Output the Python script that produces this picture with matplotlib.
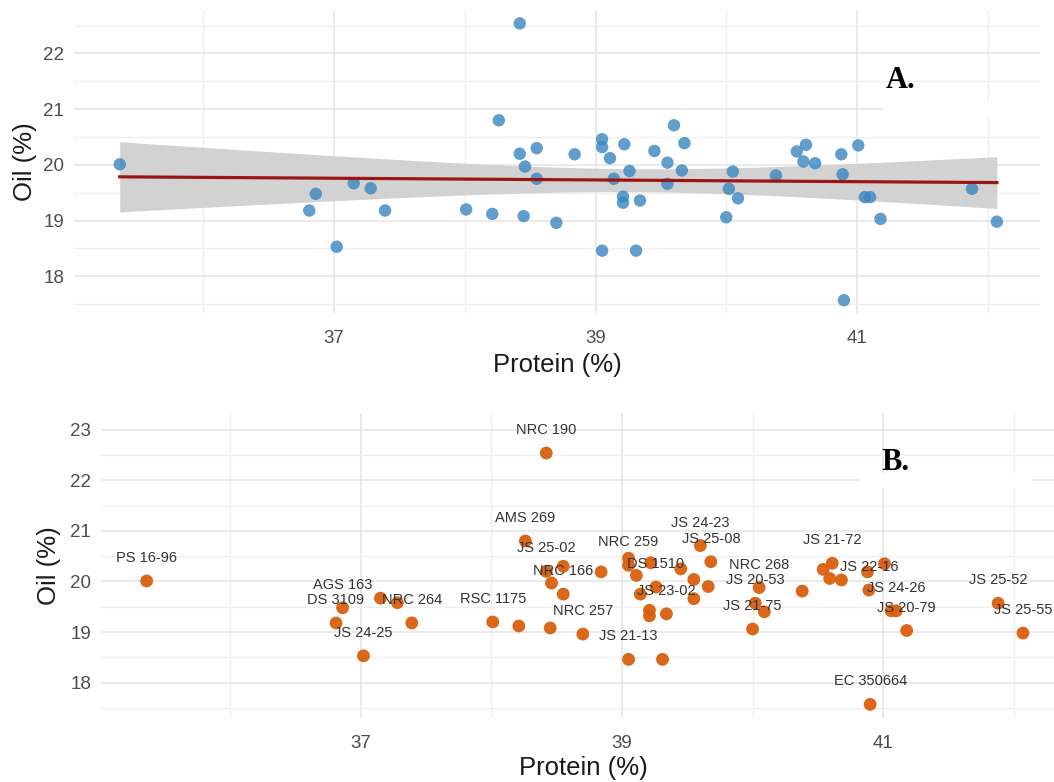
import numpy as np
import matplotlib
matplotlib.use("Agg")
import matplotlib.pyplot as plt
from matplotlib.patches import Rectangle
from matplotlib.ticker import MultipleLocator

# Données : teneur en protéines et en huile (%) des génotypes
protein = [35.36, 36.81, 36.86, 37.02, 37.15, 37.28, 37.39, 38.01, 38.21, 38.26,
           38.42, 38.42, 38.46, 38.55, 38.55, 38.45, 38.70, 38.84, 39.05, 39.05,
           39.11, 39.22, 39.14, 39.26, 39.21, 39.21, 39.34, 39.05, 39.31, 39.45,
           39.55, 39.55, 39.60, 39.68, 39.66, 40.05, 40.02, 40.09, 40.00, 40.38,
           40.54, 40.61, 40.59, 40.68, 40.88, 40.89, 41.01, 41.06, 41.10, 41.18,
           41.88, 42.07, 40.90]
oil = [20.01, 19.18, 19.48, 18.53, 19.67, 19.58, 19.18, 19.20, 19.12, 20.80,
       22.54, 20.20, 19.97, 20.30, 19.75, 19.08, 18.96, 20.19, 20.46, 20.32,
       20.12, 20.37, 19.75, 19.89, 19.43, 19.32, 19.36, 18.46, 18.46, 20.25,
       20.04, 19.66, 20.71, 20.39, 19.90, 19.88, 19.57, 19.40, 19.06, 19.81,
       20.24, 20.36, 20.06, 20.03, 20.19, 19.83, 20.35, 19.42, 19.42, 19.03,
       19.57, 18.98, 17.57]
# noms affichés (vide = étiquette masquée pour éviter les chevauchements)
names = ["PS 16-96", "DS 3109", "AGS 163", "JS 24-25", "", "", "NRC 264",
         "RSC 1175", "", "AMS 269", "NRC 190", "JS 25-02", "", "", "NRC 166", "",
         "NRC 257", "", "", "NRC 259", "", "", "", "DS 1510", "", "", "JS 23-02",
         "JS 21-13", "", "", "", "", "JS 24-23", "JS 25-08", "", "NRC 268",
         "JS 20-53", "", "JS 21-75", "", "", "JS 21-72", "", "", "", "JS 22-16",
         "", "", "JS 24-26", "JS 20-79", "JS 25-52", "JS 25-55", "EC 350664"]

x_ticks = [37, 39, 41]

plt.rcParams["font.family"] = ["Liberation Sans", "DejaVu Sans"]

x = np.array(protein)
y = np.array(oil)

# --- Régression linéaire + IC 95 % (équivalent geom_smooth(method = "lm")) ---
slope, intercept = np.polyfit(x, y, 1)
n = len(x)
resid = y - (slope * x + intercept)
se = np.sqrt(np.sum(resid ** 2) / (n - 2))
sxx = np.sum((x - x.mean()) ** 2)
t_crit = 2.008  # quantile t(0.975, ddl = 51)
xs = np.linspace(x.min(), x.max(), 200)
fit = slope * xs + intercept
half = t_crit * se * np.sqrt(1 / n + (xs - x.mean()) ** 2 / sxx)

fig = plt.figure(figsize=(10.54, 7.82), dpi=100)
ax_a = fig.add_axes([0.0702, 0.5997, 0.9165, 0.3875])
ax_b = fig.add_axes([0.0958, 0.0818, 0.9156, 0.3900])


def style_axis(ax, ylim, xlabel_y, ylabel_x):
    ax.set_xlim(35.01, 42.40)
    ax.set_ylim(*ylim)
    ax.set_xticks(x_ticks)
    ax.xaxis.set_minor_locator(MultipleLocator(1))
    ax.yaxis.set_major_locator(MultipleLocator(1))
    ax.yaxis.set_minor_locator(MultipleLocator(0.5))
    for s in ax.spines.values():
        s.set_visible(False)
    ax.grid(which="major", color="#E4E4E4", linewidth=1.1, zorder=0)
    ax.grid(which="minor", color="#EFEFEF", linewidth=0.9, zorder=0)
    ax.set_axisbelow(True)
    ax.tick_params(which="both", length=0, labelsize=13.5, labelcolor="#4D4D4D")
    ax.tick_params(axis="x", pad=12.5)
    ax.tick_params(axis="y", pad=7)
    ax.set_xlabel("Protein (%)", fontsize=18.5, color="#1A1A1A")
    ax.set_ylabel("Oil (%)", fontsize=18.5, color="#1A1A1A")
    ax.xaxis.label.set_va("center")
    ax.yaxis.label.set_va("center")
    ax.xaxis.set_label_coords(0.5, xlabel_y)
    ax.yaxis.set_label_coords(ylabel_x, 0.5)


# --- Panneau A : nuage de points + droite de régression ---
style_axis(ax_a, (17.34, 22.78), -0.172, -0.0507)
ax_a.add_patch(Rectangle((41.2, 20.85), 1.3, 0.3, facecolor="white",
                         edgecolor="none", zorder=1))
ax_a.fill_between(xs, fit - half, fit + half, color="#D2D2D2", linewidth=0, zorder=2)
ax_a.scatter(x, y, s=80, color="#3A86C0", alpha=0.8, edgecolors="none", zorder=3)
ax_a.plot(xs, fit, color="#9B1414", linewidth=2.3, zorder=4)
ax_a.text(0.856, 0.766, "A.", transform=ax_a.transAxes, ha="center", va="center",
          fontsize=22, fontweight="bold", family="Liberation Serif", zorder=5)

# --- Panneau B : points étiquetés ---
style_axis(ax_b, (17.30, 23.33), -0.164, -0.0539)
ax_b.add_patch(Rectangle((40.82, 21.85), 1.32, 0.3, facecolor="white",
                         edgecolor="none", zorder=1))
ax_b.scatter(x, y, s=85, color="#D95F0E", alpha=0.95, edgecolors="none", zorder=3)
for xi, yi, name in zip(protein, oil, names):
    if name:
        ax_b.annotate(name, (xi, yi), xytext=(0, 16.5), textcoords="offset points",
                      ha="center", va="center", fontsize=10.5, color="#333333",
                      zorder=4)
ax_b.text(0.823, 0.839, "B.", transform=ax_b.transAxes, ha="center", va="center",
          fontsize=22, fontweight="bold", family="Liberation Serif", zorder=5)

fig.savefig("out.png", dpi=100)
plt.close(fig)
